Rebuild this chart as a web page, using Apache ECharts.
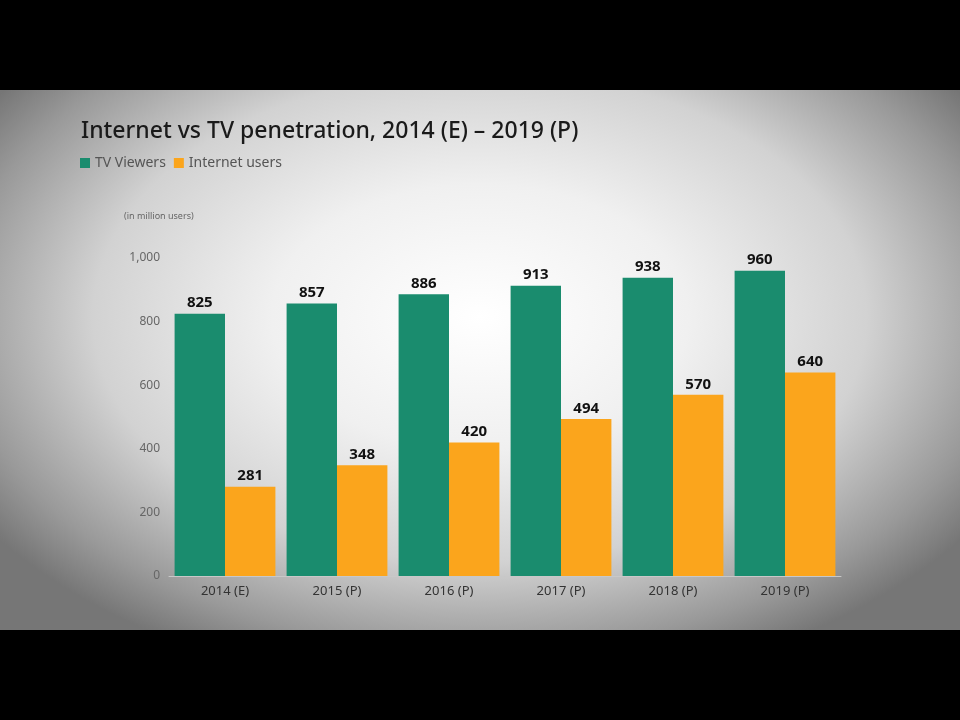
<!DOCTYPE html>
<html>
<head>
<meta charset="utf-8">
<script src="https://cdn.jsdelivr.net/npm/echarts@6/dist/echarts.min.js"></script>
<style>
html,body{margin:0;padding:0;background:#000;}
#bg{position:absolute;left:0;top:90px;width:960px;height:540px;
background:radial-gradient(ellipse 62% 70% at 50% 42%, #ffffff 0%, #f0f0f0 35%, #d2d2d2 65%, #999999 88%, #767676 100%);}
#chart{position:absolute;left:0;top:0;width:960px;height:720px;}
</style>
</head>
<body>
<div id="bg"></div>
<div id="chart"></div>
<script>
var categories = ['2014 (E)', '2015 (P)', '2016 (P)', '2017 (P)', '2018 (P)', '2019 (P)'];
var tvViewers = [825, 857, 886, 913, 938, 960];
var internetUsers = [281, 348, 420, 494, 570, 640];
var seriesNames = ['TV Viewers', 'Internet users'];
var titleText = 'Internet vs TV penetration, 2014 (E) \u2013 2019 (P)';
var unitText = '(in million users)';

var FONT = '"Noto Sans", sans-serif';
var chart = echarts.init(document.getElementById('chart'), null, {renderer: 'canvas'});
var labelStyle = {show: true, position: 'top', distance: 3, color: '#111', fontWeight: 'bold', fontSize: 15, fontFamily: FONT};
chart.setOption({
  backgroundColor: 'transparent',
  animation: false,
  title: {
    text: titleText, left: 76, top: 115,
    textStyle: {fontFamily: FONT, fontSize: 23, fontWeight: 500, color: '#1a1a1a'}
  },
  legend: {
    left: 75, top: 151, itemWidth: 10, itemHeight: 10, itemGap: 8, icon: 'rect',
    textStyle: {fontFamily: FONT, fontSize: 14, color: '#555'},
    data: seriesNames
  },
  graphic: [{
    type: 'text', left: 124, top: 212,
    style: {text: unitText, font: '9px ' + FONT, fill: '#666'}
  }],
  grid: {left: 169, right: 119, top: 258, bottom: 144, containLabel: false},
  xAxis: {
    type: 'category', data: categories,
    axisLine: {lineStyle: {color: '#c8c8c8', width: 1}},
    axisTick: {show: false},
    axisLabel: {fontFamily: FONT, fontSize: 13, color: '#333', margin: 9}
  },
  yAxis: {
    type: 'value', min: 0, max: 1000, interval: 200,
    splitLine: {show: false}, axisLine: {show: false}, axisTick: {show: false},
    axisLabel: {fontFamily: FONT, fontSize: 12, color: '#666', margin: 9}
  },
  series: [
    {name: seriesNames[0], type: 'bar', data: tvViewers, barGap: '0%', barCategoryGap: '10%',
     itemStyle: {color: '#1a8c6e'}, label: labelStyle},
    {name: seriesNames[1], type: 'bar', data: internetUsers,
     itemStyle: {color: '#fba51c'}, label: labelStyle}
  ]
});
</script>
</body>
</html>
